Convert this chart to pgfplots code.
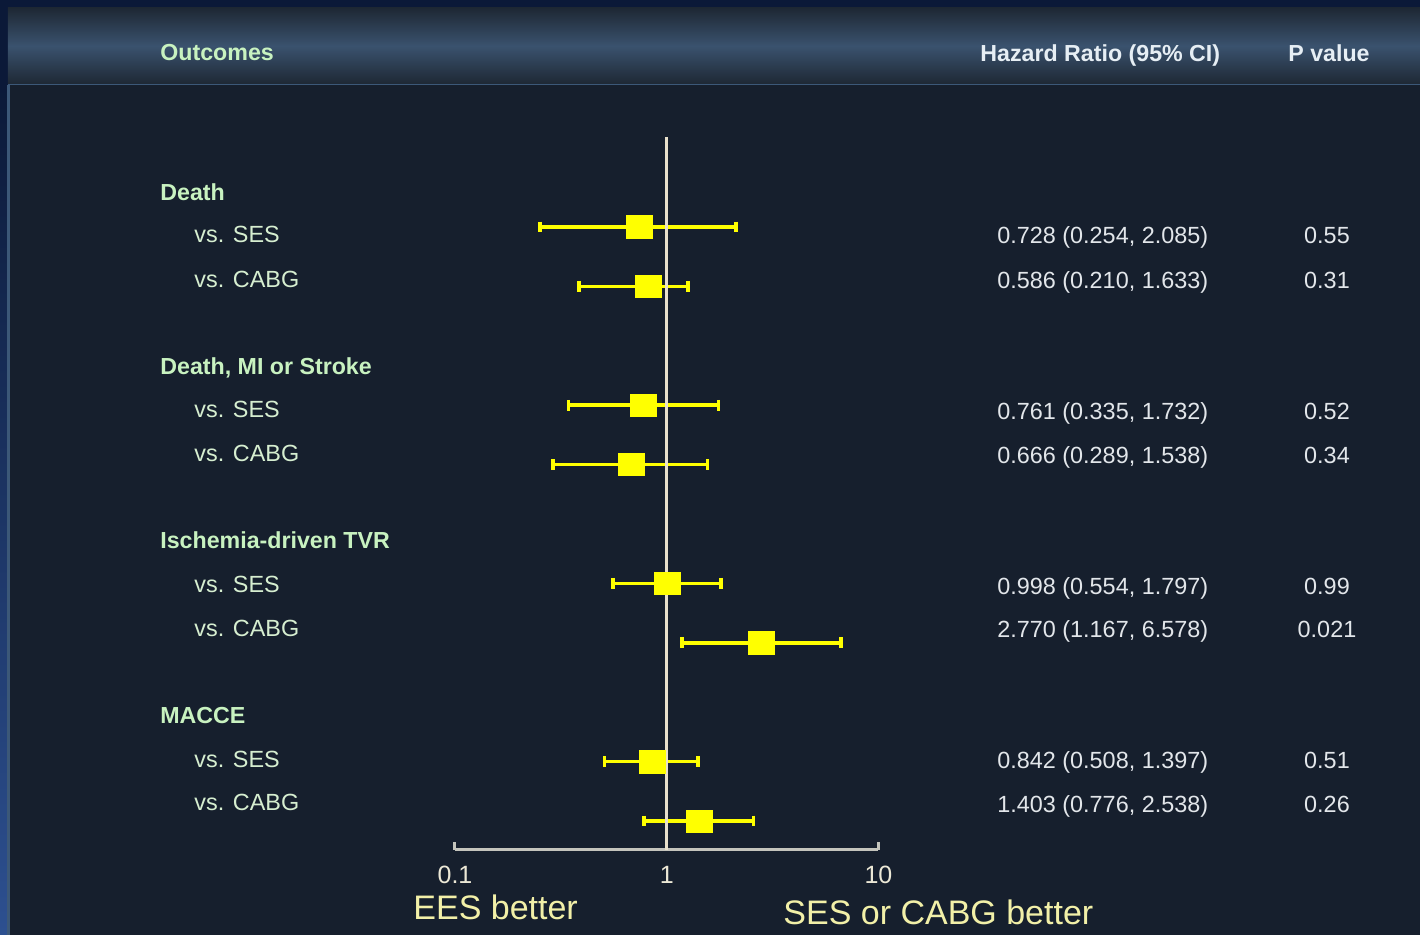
\documentclass[border=0pt]{standalone}
\usepackage{fontspec}
\setmainfont{Liberation Sans}
\usepackage{pgfplots}
\usepackage{pgfplotstable}
\pgfplotsset{compat=1.18}

\definecolor{bgpanel}{HTML}{161F2D}
\definecolor{bgnavy}{HTML}{0B1938}
\definecolor{barmid}{HTML}{3A526E}
\definecolor{bardark}{HTML}{1E2834}
\definecolor{edgeblue}{HTML}{2D5090}
\definecolor{edgeline}{HTML}{3C5878}
\definecolor{headgreen}{HTML}{C8F2C0}
\definecolor{subgreen}{HTML}{D6EED0}
\definecolor{numgray}{HTML}{E2E6EA}
\definecolor{headwhite}{HTML}{E6EEF4}
\definecolor{labyellow}{HTML}{F2F0A8}
\definecolor{ticklab}{HTML}{ECE8D6}
\definecolor{refline}{HTML}{E8E0CC}
\definecolor{axisgray}{HTML}{C4C4BC}
\definecolor{hryellow}{HTML}{FFFF00}

% hazard ratios as drawn; row = vertical slot (10 = top)
\pgfplotstableread{
row est   lo    hi
10  0.740 0.252 2.123
9   0.818 0.386 1.256
7   0.774 0.343 1.752
6   0.678 0.291 1.561
4   1.005 0.556 1.804
3   2.803 1.180 6.651
1   0.856 0.509 1.409
0   1.428 0.783 2.574
}\hr

\newcommand\hbold{\fontsize{11.6}{14}\selectfont\bfseries}
\newcommand\fbody{\fontsize{11.7}{14}\selectfont}

\begin{document}
\begin{tikzpicture}
% background, in pixel units of the reference
\begin{scope}[x=0.5pt, y=-0.5pt, shift={(-227.5pt,425pt)}]
  \fill[bgnavy] (0,0) rectangle (1420,935);
  \shade[top color=bgnavy, bottom color=edgeblue] (0,85) rectangle (8,935);
  \fill[bgpanel] (8,85) rectangle (1420,935);
  \fill[edgeline] (7,85) rectangle (10,935);
  \shade[top color=bardark, bottom color=bardark, middle color=barmid] (8,8) rectangle (1420,84);
  \fill[edgeline] (8,84) rectangle (1420,85.5);
\end{scope}

\pgfplotsset{ci/.style={hryellow, line width=1.8pt, mark=|, mark size=2.7pt,
    mark options={line width=1.8pt, hryellow}}}

\begin{axis}[
  at={(0,0)}, anchor=south west,
  scale only axis, width=211.75pt, height=356.5pt,
  xmode=log, xmin=0.1, xmax=10,
  ymin=-0.488, ymax=11.515,
  axis y line=none, axis x line*=bottom,
  x axis line style={draw=axisgray, line width=1.5pt, -},
  xtick={0.1,1,10}, xticklabels={0.1,1,10},
  minor x tick style={draw=none},
  tick align=inside, major tick length=4pt,
  x tick style={draw=axisgray, line width=1.5pt},
  xticklabel style={font=\fontsize{12.5}{14}\selectfont, text=ticklab,
    anchor=base, yshift=-17pt, inner sep=0pt},
  /pgf/number format/assume math mode=true,
  clip=false,
]
  \addplot[ci] coordinates {(0.252,10) (2.123,10)};
  \addplot[ci] coordinates {(0.386,9) (1.256,9)};
  \addplot[ci] coordinates {(0.343,7) (1.752,7)};
  \addplot[ci] coordinates {(0.291,6) (1.561,6)};
  \addplot[ci] coordinates {(0.556,4) (1.804,4)};
  \addplot[ci] coordinates {(1.180,3) (6.651,3)};
  \addplot[ci] coordinates {(0.509,1) (1.409,1)};
  \addplot[ci] coordinates {(0.783,0) (2.574,0)};
  \addplot[refline, line width=1.3pt] coordinates {(1,-0.488) (1,11.515)};
  \addplot[only marks, mark=square*, mark size=5.6pt, color=hryellow,
    mark options={fill=hryellow, draw=hryellow, line width=0.3pt, xscale=1.15}]
    table[x=est, y=row] {\hr};
\end{axis}

\begin{scope}[x=0.5pt, y=-0.5pt, shift={(-227.5pt,425pt)},
  every node/.style={inner sep=0pt, anchor=base west}]
  \node[text=headgreen, font=\hbold] at (160,60.5) {Outcomes};
  \node[text=headwhite, font=\hbold] at (980,61.5) {Hazard Ratio (95\% CI)};
  \node[text=headwhite, font=\hbold] at (1288,61.5) {P value};

  \node[text=headgreen, font=\hbold] at (160,200.5) {Death};
  \node[text=headgreen, font=\hbold] at (160,374.5) {Death, MI or Stroke};
  \node[text=headgreen, font=\hbold] at (160,548.5) {Ischemia-driven TVR};
  \node[text=headgreen, font=\hbold] at (160,723.5) {MACCE};

  \foreach \y/\t in {242.5/vs. SES, 287.5/vs. CABG, 417.5/vs. SES, 461.5/vs. CABG,
                     592.5/vs. SES, 636.5/vs. CABG, 767.5/vs. SES, 810.5/vs. CABG}
    \node[text=subgreen, font=\fbody] at (194,\y) {\t};

  \foreach \y/\t/\p in {243.5/{0.728 (0.254, 2.085)}/0.55, 288.5/{0.586 (0.210, 1.633)}/0.31,
                        419.5/{0.761 (0.335, 1.732)}/0.52, 463.5/{0.666 (0.289, 1.538)}/0.34,
                        594.5/{0.998 (0.554, 1.797)}/0.99, 637.5/{2.770 (1.167, 6.578)}/0.021,
                        768.5/{0.842 (0.508, 1.397)}/0.51, 812.5/{1.403 (0.776, 2.538)}/0.26}{
    \node[text=numgray, font=\fbody] at (997,\y) {\t};
    \node[text=numgray, font=\fbody, anchor=base] at (1327,\y) {\p};
  }

  \node[text=labyellow, font=\fontsize{17}{20}\selectfont] at (413,920) {EES better};
  \node[text=labyellow, font=\fontsize{17}{20}\selectfont] at (783,925) {SES or CABG better};
\end{scope}

\pgfresetboundingbox
\path[use as bounding box] (-227.5pt,-42.5pt) rectangle (482.5pt,425pt);
\end{tikzpicture}
\end{document}
